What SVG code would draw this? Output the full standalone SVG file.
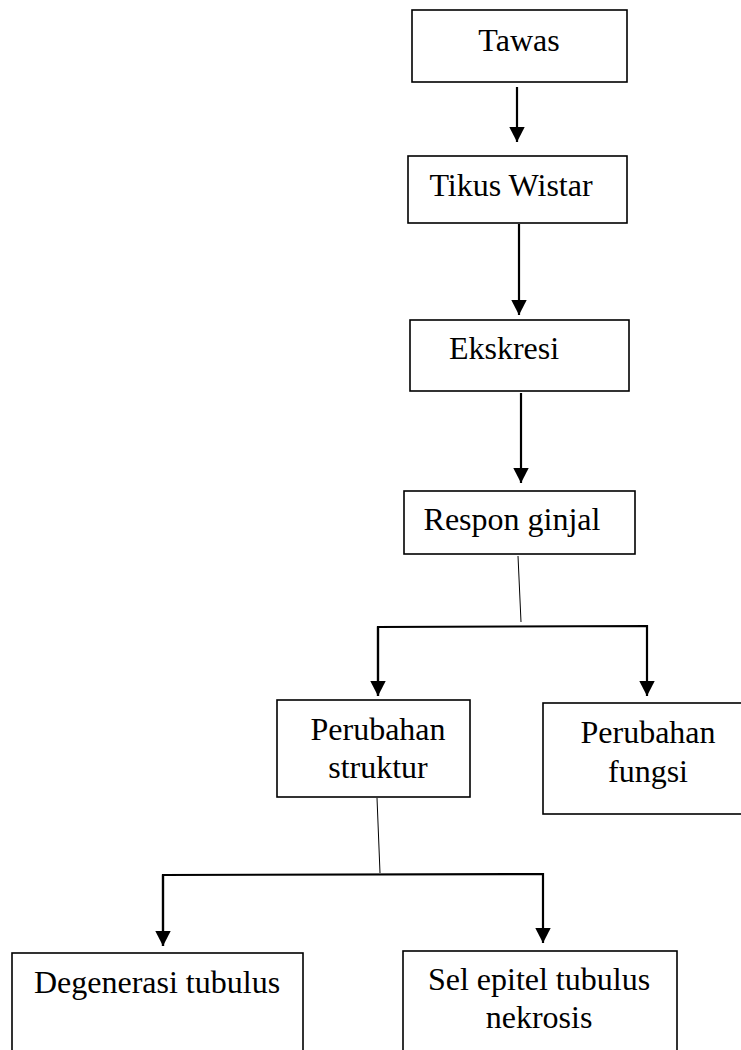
<svg xmlns="http://www.w3.org/2000/svg" width="741" height="1050" viewBox="0 0 741 1050">
<style>
.box{fill:#fff;stroke:#000;stroke-width:1.6}
text{font-family:'Liberation Serif','DejaVu Serif','Times New Roman',serif;font-size:32px;fill:#000;text-anchor:middle}
.arr{fill:none;stroke:#000;stroke-width:2.2}
.thin{fill:none;stroke:#000;stroke-width:1}
</style>
<defs>
<marker id="ah" markerWidth="8" markerHeight="8" refX="7" refY="4" orient="auto" markerUnits="strokeWidth">
<path d="M0,0.4 L7,4 L0,7.6 Z" fill="#000"/>
</marker>
</defs>
<rect width="741" height="1050" fill="#fff"/>
<g id="connectors">
<line class="arr" x1="517" y1="87" x2="517" y2="142" marker-end="url(#ah)"/>
<line class="arr" x1="519" y1="224" x2="519" y2="315" marker-end="url(#ah)"/>
<line class="arr" x1="521" y1="393" x2="521" y2="483" marker-end="url(#ah)"/>
<line class="thin" x1="518" y1="556" x2="521" y2="622"/>
<polyline class="arr" points="378,696 378,627 647,626 647,696" marker-end="url(#ah)"/>
<line class="arr" x1="378" y1="627" x2="378" y2="696" marker-end="url(#ah)"/>
<line class="thin" x1="377" y1="798" x2="380" y2="873"/>
<polyline class="arr" points="163,946 163,875 543,874 543,943" marker-end="url(#ah)"/>
<line class="arr" x1="163" y1="875" x2="163" y2="946" marker-end="url(#ah)"/>
</g>
<g id="tawas"><rect class="box" x="412" y="10" width="215" height="72"/><text font-family="Liberation Serif" x="519" y="51">Tawas</text></g>
<g id="tikus"><rect class="box" x="408" y="156" width="219" height="67"/><text font-family="Liberation Serif" x="511" y="196">Tikus Wistar</text></g>
<g id="ekskresi"><rect class="box" x="410" y="320" width="219" height="71"/><text font-family="Liberation Serif" x="504" y="359">Ekskresi</text></g>
<g id="respon"><rect class="box" x="404" y="491" width="231" height="63"/><text font-family="Liberation Serif" x="512" y="530">Respon ginjal</text></g>
<g id="struktur"><rect class="box" x="277" y="700" width="193" height="97"/><text font-family="Liberation Serif" x="378" y="740">Perubahan</text><text font-family="Liberation Serif" x="378" y="778">struktur</text></g>
<g id="fungsi"><rect class="box" x="543" y="703" width="200" height="111"/><text font-family="Liberation Serif" x="648" y="743">Perubahan</text><text font-family="Liberation Serif" x="648" y="782">fungsi</text></g>
<g id="degenerasi"><rect class="box" x="12" y="953" width="291" height="110"/><text font-family="Liberation Serif" x="157" y="993">Degenerasi tubulus</text></g>
<g id="nekrosis"><rect class="box" x="403" y="951" width="274" height="112"/><text font-family="Liberation Serif" x="539" y="990">Sel epitel tubulus</text><text font-family="Liberation Serif" x="539" y="1028">nekrosis</text></g>
</svg>
